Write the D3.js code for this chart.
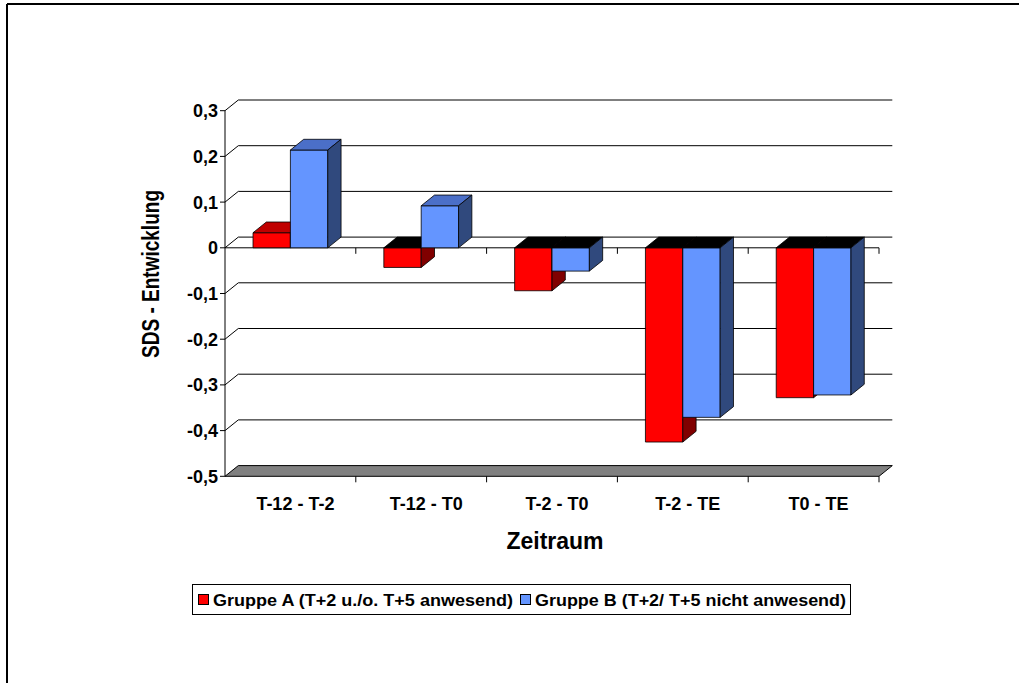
<!DOCTYPE html>
<html>
<head>
<meta charset="utf-8">
<script src="https://cdn.jsdelivr.net/npm/d3@7"></script>
<style>
  html, body { margin: 0; padding: 0; background: #fff; }
  text { font-family: "Liberation Sans", Arial, sans-serif; font-weight: bold; }
</style>
</head>
<body>
<svg id="chart" width="1019" height="683"></svg>
<script>
// ---- data ----
const categories = ["T-12 - T-2", "T-12 - T0", "T-2 - T0", "T-2 - TE", "T0 - TE"];
const seriesNames = ["Gruppe A (T+2 u./o. T+5 anwesend)", "Gruppe B (T+2/ T+5 nicht anwesend)"];
const groupA = [0.033, -0.043, -0.094, -0.425, -0.328];
const groupB = [0.214, 0.092, -0.051, -0.371, -0.322];
const yTicks = [0.3, 0.2, 0.1, 0, -0.1, -0.2, -0.3, -0.4, -0.5];
const yTitle = "SDS - Entwicklung";
const xTitle = "Zeitraum";

// ---- styles ----
const colors = [
  { front: "#FF0000", top: "#C00000", side: "#800000" },
  { front: "#6495FF", top: "#4B6FC8", side: "#30497D" }
];

const svg = d3.select("#chart");

// outer frame
svg.append("line").attr("x1", 7).attr("y1", 4).attr("x2", 1019).attr("y2", 4)
  .attr("stroke", "#000").attr("stroke-width", 2);
svg.append("line").attr("x1", 7).attr("y1", 4).attr("x2", 7).attr("y2", 683)
  .attr("stroke", "#000").attr("stroke-width", 2);

const x0 = 225, x1 = 879;
const dx = 13.3, dy = -10.7;

const y = d3.scaleLinear().domain([-0.5, 0.3]).range([476.3, 110.7]);
const x = d3.scaleBand().domain(categories).range([x0, x1]).padding(0);
const xs = d3.scaleBand().domain([0, 1]).range([0, x.bandwidth()])
  .paddingInner(0).paddingOuter(0.75);

const fmt = v => (v === 0 ? "0" : d3.format(".1f")(v).replace(".", ",").replace("−", "-"));

// floor
const yMin = y(-0.5);
svg.append("polygon")
  .attr("points", [[x0, yMin], [x1, yMin], [x1 + dx, yMin + dy], [x0 + dx, yMin + dy]].map(p => p.join(",")).join(" "))
  .attr("fill", "#808080").attr("stroke", "#000").attr("stroke-width", 1);

// back gridlines with wall diagonals
const gl = svg.append("g");
yTicks.filter(v => v > -0.5).forEach(v => {
  const yy = y(v);
  gl.append("path")
    .attr("d", `M${x0},${yy}L${x0 + dx},${yy + dy}L${x1 + dx},${yy + dy}`)
    .attr("fill", "none").attr("stroke", "#000").attr("stroke-width", 1);
});

// vertical axis
svg.append("line").attr("x1", x0).attr("x2", x0).attr("y1", y(0.3)).attr("y2", y(-0.5))
  .attr("stroke", "#000").attr("stroke-width", 1);
// y ticks and labels
yTicks.forEach(v => {
  svg.append("line").attr("x1", x0 - 5).attr("x2", x0).attr("y1", y(v)).attr("y2", y(v))
    .attr("stroke", "#000").attr("stroke-width", 1);
  svg.append("text").attr("x", x0 - 7).attr("y", y(v)).attr("dy", "0.36em")
    .attr("text-anchor", "end").attr("font-size", 18).text(fmt(v));
});

// front zero line (category axis) and ticks
const y0 = y(0);
svg.append("line").attr("x1", x0).attr("x2", x1).attr("y1", y0).attr("y2", y0)
  .attr("stroke", "#000").attr("stroke-width", 1);
categories.forEach(c => {
  const xr = x(c) + x.bandwidth();
  svg.append("line").attr("x1", xr).attr("x2", xr).attr("y1", y0).attr("y2", y0 + 6)
    .attr("stroke", "#000").attr("stroke-width", 1);
  svg.append("line").attr("x1", xr).attr("x2", xr).attr("y1", yMin).attr("y2", yMin + 6)
    .attr("stroke", "#000").attr("stroke-width", 1);
});

// bars
const series = [groupA, groupB];
const bars = svg.append("g");
categories.forEach((c, i) => {
  series.forEach((vals, s) => {
    const v = vals[i];
    const bx = x(c) + xs(s);
    const bw = xs.bandwidth();
    const yt = y(Math.max(v, 0));
    const yb = y(Math.min(v, 0));
    const col = colors[s];
    const g = bars.append("g").attr("stroke", "#000").attr("stroke-width", 0.8).attr("stroke-linejoin", "round");
    g.append("rect").attr("x", bx).attr("y", yt).attr("width", bw).attr("height", yb - yt)
      .attr("fill", col.front);
    g.append("polygon")
      .attr("points", [[bx, yt], [bx + bw, yt], [bx + bw + dx, yt + dy], [bx + dx, yt + dy]].map(p => p.join(",")).join(" "))
      .attr("fill", v >= 0 ? col.top : "#000");
    g.append("polygon")
      .attr("points", [[bx + bw, yt], [bx + bw + dx, yt + dy], [bx + bw + dx, yb + dy], [bx + bw, yb]].map(p => p.join(",")).join(" "))
      .attr("fill", col.side);
  });
});

// category labels
categories.forEach(c => {
  svg.append("text").attr("x", x(c) + x.bandwidth() / 2 + 5).attr("y", 509.5)
    .attr("text-anchor", "middle").attr("font-size", 18).text(c);
});

// axis titles
svg.append("text").attr("x", 555).attr("y", 549).attr("text-anchor", "middle")
  .attr("font-size", 23).text(xTitle);
svg.append("text").attr("transform", "translate(159,274) rotate(-90)")
  .attr("text-anchor", "middle").attr("font-size", 24.5)
  .attr("textLength", 168).attr("lengthAdjust", "spacingAndGlyphs").text(yTitle);

// legend
const lg = svg.append("g");
lg.append("rect").attr("x", 192.5).attr("y", 584.5).attr("width", 658).attr("height", 30)
  .attr("fill", "#fff").attr("stroke", "#000").attr("stroke-width", 1);
const legendPos = [{ sx: 198.5, tx: 213, tl: 300 }, { sx: 520.5, tx: 535, tl: 311 }];
seriesNames.forEach((n, s) => {
  const p = legendPos[s];
  lg.append("rect").attr("x", p.sx).attr("y", 594.5).attr("width", 10).attr("height", 10)
    .attr("fill", colors[s].front).attr("stroke", "#000").attr("stroke-width", 1);
  lg.append("text").attr("x", p.tx).attr("y", 605.5).attr("font-size", 16)
    .attr("textLength", p.tl).attr("lengthAdjust", "spacingAndGlyphs").text(n);
});
</script>
</body>
</html>
